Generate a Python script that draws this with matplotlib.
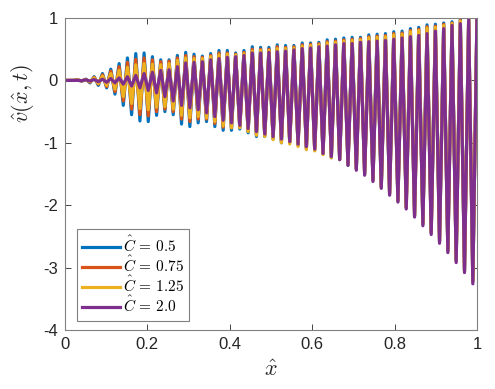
import numpy as np
import matplotlib
matplotlib.use("Agg")
import matplotlib.pyplot as plt

# x positions of the crests and troughs
x_peak = [0.0304, 0.0506, 0.0708, 0.0910, 0.1112, 0.1314, 0.1516, 0.1718, 0.1920, 0.2122,
          0.2324, 0.2526, 0.2728, 0.2930, 0.3132, 0.3334, 0.3536, 0.3738, 0.3940, 0.4142,
          0.4344, 0.4546, 0.4748, 0.4950, 0.5152, 0.5354, 0.5556, 0.5758, 0.5960, 0.6162,
          0.6364, 0.6566, 0.6768, 0.6970, 0.7172, 0.7374, 0.7576, 0.7778, 0.7980, 0.8182,
          0.8384, 0.8586, 0.8788, 0.8990, 0.9192, 0.9394, 0.9596, 0.9798, 1.0000]
x_trough = [0.0405, 0.0607, 0.0809, 0.1011, 0.1213, 0.1415, 0.1617, 0.1819, 0.2021, 0.2223,
            0.2425, 0.2627, 0.2829, 0.3031, 0.3233, 0.3435, 0.3637, 0.3839, 0.4041, 0.4243,
            0.4445, 0.4647, 0.4849, 0.5051, 0.5253, 0.5455, 0.5657, 0.5859, 0.6061, 0.6263,
            0.6465, 0.6667, 0.6869, 0.7071, 0.7273, 0.7475, 0.7677, 0.7879, 0.8081, 0.8283,
            0.8485, 0.8687, 0.8889, 0.9091, 0.9293, 0.9495, 0.9697, 0.9899]

# C = 0.5
peak_05 = [0.01, 0.02, 0.06, 0.11, 0.18, 0.27, 0.36, 0.43, 0.44, 0.38,
           0.33, 0.33, 0.40, 0.45, 0.42, 0.39, 0.43, 0.48, 0.48, 0.44,
           0.48, 0.54, 0.53, 0.53, 0.57, 0.56, 0.56, 0.60, 0.60, 0.61,
           0.65, 0.66, 0.68, 0.69, 0.69, 0.73, 0.74, 0.75, 0.78, 0.79,
           0.83, 0.85, 0.89, 0.90, 0.92, 0.94, 0.98, 1.00, 1.02]
trough_05 = [-0.01, -0.04, -0.08, -0.12, -0.22, -0.40, -0.55, -0.65, -0.66, -0.56,
             -0.50, -0.55, -0.70, -0.74, -0.68, -0.66, -0.74, -0.80, -0.80, -0.78,
             -0.84, -0.90, -0.90, -0.94, -1.00, -1.00, -1.04, -1.10, -1.12, -1.18,
             -1.24, -1.27, -1.36, -1.42, -1.50, -1.60, -1.71, -1.82, -1.93, -2.04,
             -2.17, -2.30, -2.44, -2.58, -2.73, -2.89, -3.05, -3.22]

# C = 0.75
peak_075 = [0.01, 0.015, 0.05, 0.09, 0.15, 0.22, 0.29, 0.34, 0.36, 0.33,
            0.30, 0.31, 0.36, 0.40, 0.38, 0.37, 0.40, 0.44, 0.44, 0.42,
            0.45, 0.50, 0.50, 0.50, 0.54, 0.53, 0.54, 0.57, 0.58, 0.59,
            0.62, 0.63, 0.65, 0.66, 0.67, 0.70, 0.71, 0.72, 0.75, 0.76,
            0.80, 0.82, 0.86, 0.87, 0.90, 0.92, 0.96, 0.99, 1.02]
trough_075 = [-0.01, -0.03, -0.06, -0.10, -0.18, -0.33, -0.46, -0.55, -0.57, -0.50,
              -0.46, -0.50, -0.62, -0.66, -0.62, -0.62, -0.69, -0.75, -0.76, -0.75,
              -0.81, -0.87, -0.88, -0.92, -0.98, -0.99, -1.03, -1.09, -1.11, -1.17,
              -1.23, -1.26, -1.35, -1.41, -1.49, -1.59, -1.70, -1.81, -1.92, -2.03,
              -2.16, -2.29, -2.43, -2.57, -2.72, -2.88, -3.04, -3.21]

# C = 1.25
peak_125 = [0.005, 0.01, 0.04, 0.07, 0.11, 0.16, 0.21, 0.25, 0.27, 0.26,
            0.25, 0.27, 0.32, 0.36, 0.35, 0.35, 0.38, 0.41, 0.42, 0.41,
            0.43, 0.47, 0.48, 0.48, 0.51, 0.51, 0.52, 0.55, 0.56, 0.57,
            0.60, 0.61, 0.63, 0.64, 0.65, 0.68, 0.69, 0.70, 0.73, 0.74,
            0.78, 0.80, 0.84, 0.85, 0.88, 0.91, 0.95, 0.98, 1.02]
trough_125 = [-0.005, -0.02, -0.05, -0.08, -0.14, -0.26, -0.37, -0.45, -0.47, -0.43,
              -0.42, -0.46, -0.56, -0.60, -0.58, -0.60, -0.66, -0.73, -0.76, -0.76,
              -0.82, -0.88, -0.90, -0.95, -1.00, -1.02, -1.06, -1.11, -1.13, -1.19,
              -1.24, -1.27, -1.35, -1.42, -1.50, -1.60, -1.71, -1.82, -1.93, -2.04,
              -2.17, -2.30, -2.44, -2.58, -2.73, -2.89, -3.05, -3.22]

# C = 2.0
peak_20 = [0.0, 0.01, 0.015, 0.02, 0.03, 0.04, 0.06, 0.08, 0.11, 0.13,
           0.16, 0.17, 0.22, 0.28, 0.29, 0.30, 0.33, 0.35, 0.37, 0.38,
           0.40, 0.44, 0.44, 0.45, 0.46, 0.47, 0.49, 0.51, 0.52, 0.54,
           0.55, 0.57, 0.59, 0.59, 0.61, 0.62, 0.63, 0.64, 0.66, 0.68,
           0.70, 0.72, 0.75, 0.79, 0.83, 0.88, 0.91, 0.97, 1.05]
trough_20 = [-0.005, -0.01, -0.02, -0.03, -0.04, -0.06, -0.09, -0.12, -0.16, -0.20,
             -0.26, -0.33, -0.40, -0.44, -0.47, -0.52, -0.58, -0.64, -0.68, -0.72,
             -0.77, -0.82, -0.86, -0.90, -0.94, -0.98, -1.02, -1.06, -1.10, -1.17,
             -1.22, -1.27, -1.36, -1.44, -1.52, -1.62, -1.73, -1.84, -1.95, -2.06,
             -2.19, -2.33, -2.47, -2.61, -2.76, -2.92, -3.08, -3.26]

labels = [r"$\hat{C}\,=\,0.5$", r"$\hat{C}\,=\,0.75$", r"$\hat{C}\,=\,1.25$", r"$\hat{C}\,=\,2.0$"]
colors = ["#0072BD", "#D95319", "#EDB120", "#7E2F8E"]
x_ticks = [0, 0.2, 0.4, 0.6, 0.8, 1]
x_ticklabels = ["0", "0.2", "0.4", "0.6", "0.8", "1"]
y_ticks = [-4, -3, -2, -1, 0, 1]
y_ticklabels = ["-4", "-3", "-2", "-1", "0", "1"]


def zigzag(peaks, troughs):
    # flat start, then alternate crest / trough
    xs = np.empty(len(x_peak) + len(x_trough))
    ys = np.empty_like(xs)
    xs[0::2] = x_peak
    xs[1::2] = x_trough
    ys[0::2] = peaks
    ys[1::2] = troughs
    return np.r_[0.0, 0.0203, xs], np.r_[0.0, 0.0, ys]


plt.rcParams["mathtext.fontset"] = "cm"
plt.rcParams["font.family"] = ["Liberation Sans", "DejaVu Sans"]

fig = plt.figure(figsize=(4.95, 3.89), dpi=100)
ax = fig.add_axes([0.1313, 0.1517, 0.8323, 0.802])

series = [(peak_05, trough_05), (peak_075, trough_075),
          (peak_125, trough_125), (peak_20, trough_20)]
for (pk, tr), lab, col in zip(series, labels, colors):
    xs, ys = zigzag(pk, tr)
    ax.plot(xs, ys, color=col, linewidth=2.3, label=lab, solid_joinstyle="round")

ax.set_xlim(0, 1)
ax.set_ylim(-4, 1)
ax.set_xticks(x_ticks)
ax.set_xticklabels(x_ticklabels)
ax.set_yticks(y_ticks)
ax.set_yticklabels(y_ticklabels)
ax.tick_params(direction="in", length=4, width=0.6, colors="#262626",
               labelsize=12, top=True, right=True, pad=5)
for side in ax.spines.values():
    side.set_color("#808080")
    side.set_linewidth(0.8)

ax.set_xlabel(r"$\hat{x}$", fontsize=16, color="#262626", labelpad=6)
ax.set_ylabel(r"$\hat{v}(\hat{x},t)$", fontsize=16, color="#262626")
ax.yaxis.set_label_coords(-0.07, 0.757)

leg = ax.legend(loc="lower left", bbox_to_anchor=(0.028, 0.03), borderaxespad=0,
                fontsize=11, handlelength=2.5, handletextpad=0.2, labelspacing=-0.02,
                borderpad=0.35, fancybox=False, framealpha=1)
leg.get_frame().set_edgecolor("#808080")
leg.get_frame().set_linewidth(0.8)

plt.savefig("out.png", dpi=100)
